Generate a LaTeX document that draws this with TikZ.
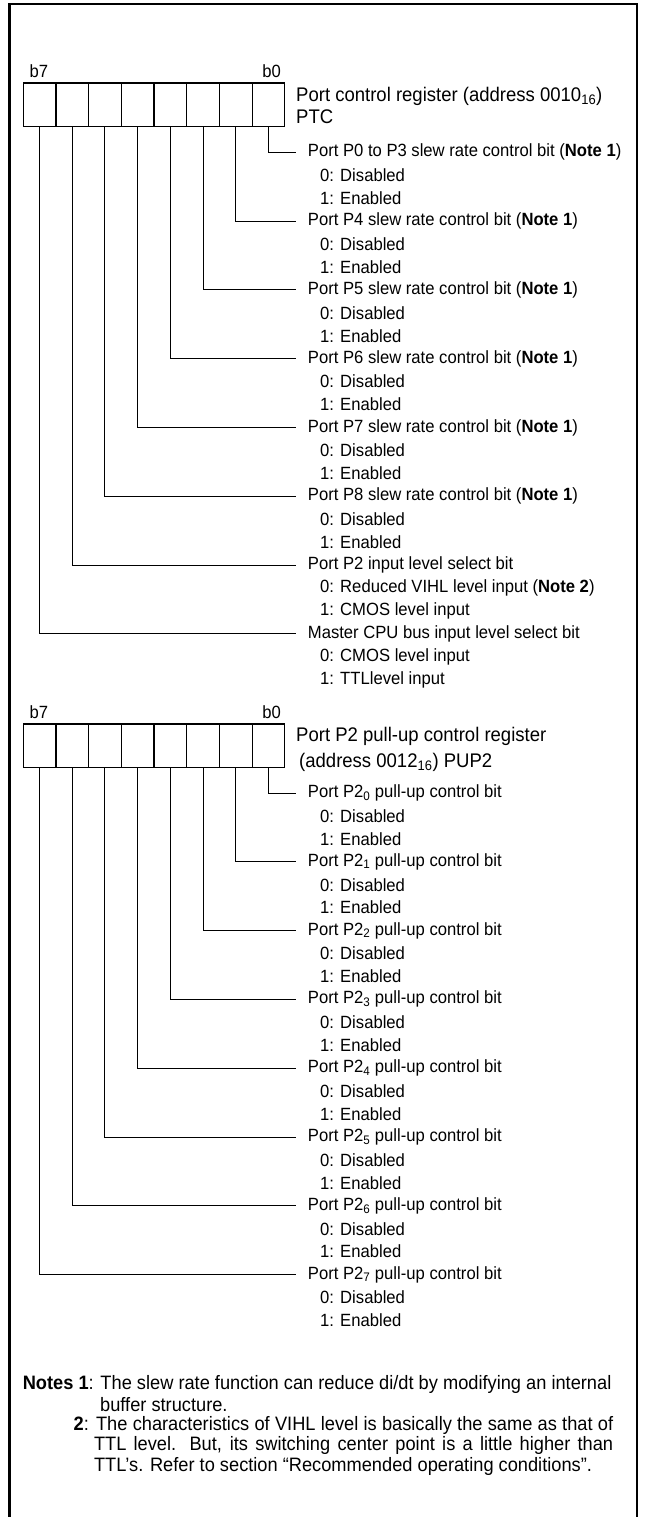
\documentclass[tikz,border=0pt]{standalone}
\usepackage{fontspec}
\setmainfont[FakeStretch=0.94]{Liberation Sans}
\begin{document}
\begin{tikzpicture}[x=1pt,y=-1pt,
  cell/.style={draw,line width=1.2pt,minimum width=32.7pt,minimum height=43.5pt,inner sep=0pt,anchor=north west},
  lead/.style={line width=1pt},
  head/.style={anchor=west,inner ysep=0pt,inner xsep=12pt,font=\fontsize{17.7}{20}\selectfont},
  opt/.style={anchor=west,inner sep=0pt,font=\fontsize{17.7}{20}\selectfont},
  ttl/.style={anchor=west,inner sep=0pt,font=\fontsize{19.7}{22}\selectfont},
  bitlab/.style={inner sep=0pt,font=\fontsize{17.7}{20}\selectfont},
  note/.style={anchor=west,inner sep=0pt,font=\fontsize{19.4}{22}\selectfont},
]
\useasboundingbox (0,0) rectangle (645,1517);
\draw[line width=2.4pt] (9.3,1517) -- (9.3,4) -- (637,4) -- (637,1517);

% ---------- register 1 ----------
\foreach \i [evaluate=\i as \b using int(7-\i)] in {0,...,7}
  \node[cell] (r1b\b) at ({22.6+32.7*\i},82.4) {};
\node[bitlab] (r1h7) at (39,71) {b7};
\node[bitlab] (r1h0) at (271.6,71) {b0};
\node[ttl] (t1a) at (296,96.5) {Port control register (address 0010\textsubscript{16})};
\node[ttl] (t1b) at (296,116.7) {PTC};

\foreach \k/\txt/\za/\on in {
  0/{Port P0 to P3 slew rate control bit (\textbf{Note 1})}/{0: Disabled}/{1: Enabled},
  1/{Port P4 slew rate control bit (\textbf{Note 1})}/{0: Disabled}/{1: Enabled},
  2/{Port P5 slew rate control bit (\textbf{Note 1})}/{0: Disabled}/{1: Enabled},
  3/{Port P6 slew rate control bit (\textbf{Note 1})}/{0: Disabled}/{1: Enabled},
  4/{Port P7 slew rate control bit (\textbf{Note 1})}/{0: Disabled}/{1: Enabled},
  5/{Port P8 slew rate control bit (\textbf{Note 1})}/{0: Disabled}/{1: Enabled},
  6/{Port P2 input level select bit}/{0: Reduced VIHL level input (\textbf{Note 2})}/{1: CMOS level input},
  7/{Master CPU bus input level select bit}/{0: CMOS level input}/{1: TTLlevel input}}
{
  \node[head] (r1l\k) at (295.7,{152.3+68.8*\k}) {\txt};
  \node[opt] (r1z\k) at (320,{175.2+68.8*\k}) {\za};
  \node[opt] (r1o\k) at (320,{198.1+68.8*\k}) {\on};
  \draw[lead] (r1b\k.south) |- (r1l\k.west);
}

% ---------- register 2 ----------
\foreach \i [evaluate=\i as \b using int(7-\i)] in {0,...,7}
  \node[cell] (r2b\b) at ({22.6+32.7*\i},723.3) {};
\node[bitlab] (r2h7) at (39,712) {b7};
\node[bitlab] (r2h0) at (271.6,712) {b0};
\node[ttl] (t2a) at (296,736.7) {Port P2 pull-up control register};
\node[ttl] (t2b) at (299,762.7) {(address 0012\textsubscript{16}) PUP2};

\foreach \k in {0,...,7}
{
  \node[head] (r2l\k) at (295.7,{793+68.8*\k}) {Port P2\textsubscript{\k} pull-up control bit};
  \node[opt] (r2z\k) at (320,{815.9+68.8*\k}) {0: Disabled};
  \node[opt] (r2o\k) at (320,{838.8+68.8*\k}) {1: Enabled};
  \draw[lead] (r2b\k.south) |- (r2l\k.west);
}

% ---------- notes ----------
\node[note] (n1a) at (22.6,1384) {\textbf{Notes 1}: The slew rate function can reduce di/dt by modifying an internal};
\node[note] (n1b) at (100,1404.5) {buffer structure.};
\node[note] (n2a) at (73.5,1425) {\makebox[539.5pt][s]{\textbf{2}: The characteristics of VIHL level is basically the same as that of}};
\node[note] (n2b) at (93.8,1445.5) {\makebox[519.2pt][s]{TTL level. But, its switching center point is a little higher than}};
\node[note] (n2c) at (93.8,1466) {TTL’s. Refer to section “Recommended operating conditions”.};
\end{tikzpicture}
\end{document}
